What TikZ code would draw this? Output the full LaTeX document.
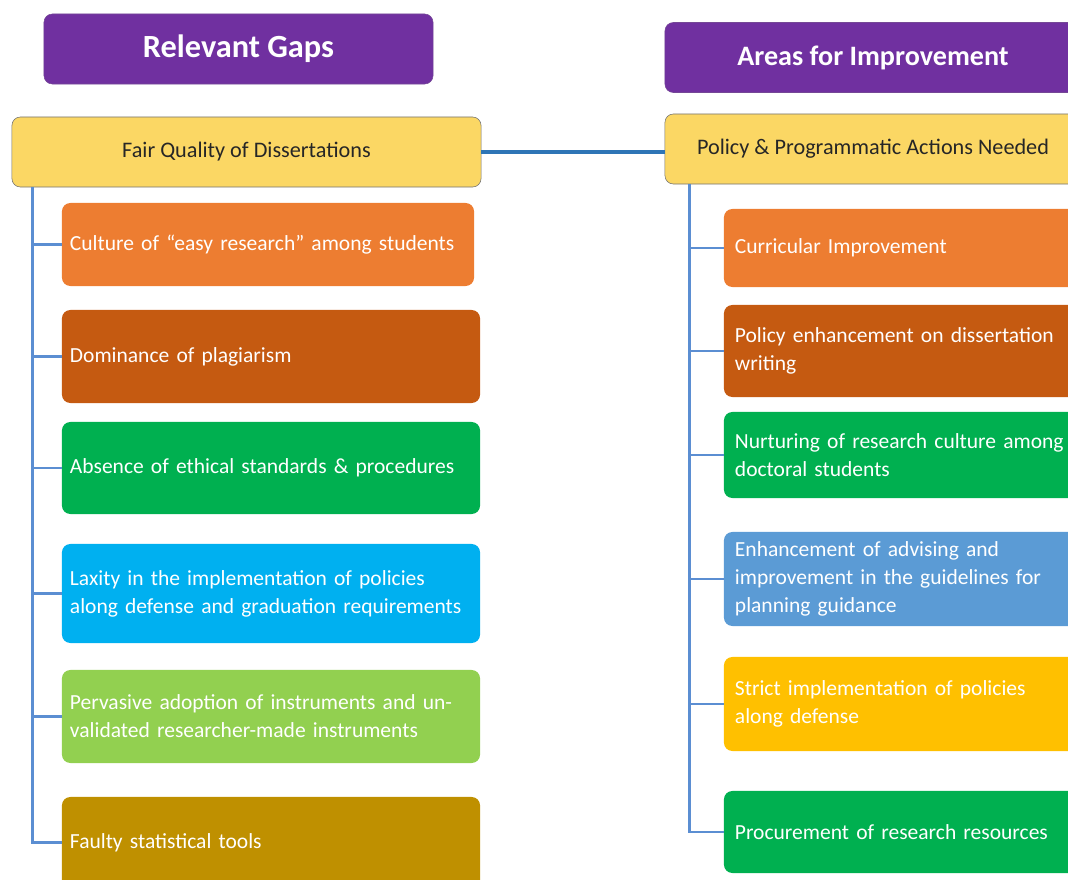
\documentclass[tikz,border=0pt]{standalone}
\usepackage{fontspec}
\setmainfont{Carlito}
\usepackage{xcolor}
\usepackage{tikz}
\usetikzlibrary{positioning}

\definecolor{headpurple}{HTML}{7030A0}
\definecolor{topicyellow}{HTML}{FBD764}
\definecolor{boxorange}{HTML}{ED7D31}
\definecolor{boxrust}{HTML}{C55A11}
\definecolor{boxgreen}{HTML}{00B050}
\definecolor{boxcyan}{HTML}{00B0F0}
\definecolor{boxlime}{HTML}{92D050}
\definecolor{boxgold}{HTML}{BF9000}
\definecolor{boxblue}{HTML}{5B9BD5}
\definecolor{boxamber}{HTML}{FFC000}
\definecolor{trunkblue}{HTML}{5B8ED2}
\definecolor{bridgeblue}{HTML}{2E75B6}

\begin{document}
\begin{tikzpicture}[x=0.025cm,y=-0.025cm,
    every node/.style={rounded corners=6pt},
    head/.style={fill=headpurple,draw=headpurple!70!gray,text=white,
      font=\bfseries\fontsize{20}{24}\selectfont,minimum height=1.75cm},
    topic/.style={fill=topicyellow,draw=black!55,text=black!85,
      font=\fontsize{15.8}{18}\selectfont,minimum height=1.75cm},
    gap/.style={fill=#1,text=white,align=left,inner xsep=0.2cm,
      text width=10.05cm,font=\fontsize{15.3}{20}\selectfont},
    fix/.style={fill=#1,text=white,align=left,inner xsep=0.275cm,
      text width=8.85cm,font=\fontsize{15.3}{20}\selectfont},
    trunk/.style={draw=trunkblue,line width=2pt},
    bridge/.style={draw=bridgeblue,line width=3.5pt}]
  \useasboundingbox (0,0) rectangle (1068,880);
  \clip (0,0) rectangle (1068,880);

  % left column
  \node[head,minimum width=9.725cm,font=\bfseries\fontsize{23}{26}\selectfont] (rg) at (238.5,49) {Relevant Gaps};
  \node[topic,minimum width=11.725cm] (fq) at (246.5,152) {Fair Quality of Dissertations};
  \node[gap=boxorange,minimum height=2.075cm,text width=9.9cm] (g1) at (268,244.5)
    {Culture of ``easy research'' among students};
  \node[gap=boxrust,minimum height=2.325cm] (g2) at (271,356.5) {Dominance of plagiarism};
  \node[gap=boxgreen,minimum height=2.3cm] (g3) at (271,468) {Absence of ethical standards \& procedures};
  \node[gap=boxcyan,minimum height=2.475cm] (g4) at (271,593.5)
    {Laxity in the implementation of policies\\along defense and graduation requirements};
  \node[gap=boxlime,minimum height=2.325cm] (g5) at (271,716.5)
    {Pervasive adoption of instruments and un-\\validated researcher-made instruments};
  \node[gap=boxgold,minimum height=2.275cm] (g6) at (271,842.5) {Faulty statistical tools};

  % right column
  \node[head,minimum width=10.4cm] (ai) at (873,57.5) {Areas for Improvement};
  \node[topic,minimum width=10.4cm] (pa) at (873,149) {Policy \& Programmatic Actions Needed};
  \node[fix=boxorange,minimum height=1.95cm] (f1) at (912,248) {Curricular Improvement};
  \node[fix=boxrust,minimum height=2.3cm] (f2) at (912,351)
    {Policy enhancement on dissertation\\writing};
  \node[fix=boxgreen,minimum height=2.15cm] (f3) at (912,455)
    {Nurturing of research culture among\\doctoral students};
  \node[fix=boxblue,minimum height=2.35cm] (f4) at (912,579)
    {Enhancement of advising and\\improvement in the guidelines for\\planning guidance};
  \node[fix=boxamber,minimum height=2.35cm] (f5) at (912,704)
    {Strict implementation of policies\\along defense};
  \node[fix=boxgreen,minimum height=2.05cm] (f6) at (912,832) {Procurement of research resources};

  % connectors
  \draw[bridge] (fq.east) -- (fq.east -| pa.west);
  \coordinate (lt) at ([xshift=0.525cm]fq.south west);
  \coordinate (rt) at ([xshift=0.625cm]pa.south west);
  \draw[trunk] (lt) |- (g6.west);
  \draw[trunk] (lt |- g1.west) -- (g1.west);
  \draw[trunk] (lt |- g2.west) -- (g2.west);
  \draw[trunk] (lt |- g3.west) -- (g3.west);
  \draw[trunk] (lt |- g4.west) -- (g4.west);
  \draw[trunk] (lt |- g5.west) -- (g5.west);
  \draw[trunk] (rt) |- (f6.west);
  \draw[trunk] (rt |- f1.west) -- (f1.west);
  \draw[trunk] (rt |- f2.west) -- (f2.west);
  \draw[trunk] (rt |- f3.west) -- (f3.west);
  \draw[trunk] (rt |- f4.west) -- (f4.west);
  \draw[trunk] (rt |- f5.west) -- (f5.west);
\end{tikzpicture}
\end{document}
